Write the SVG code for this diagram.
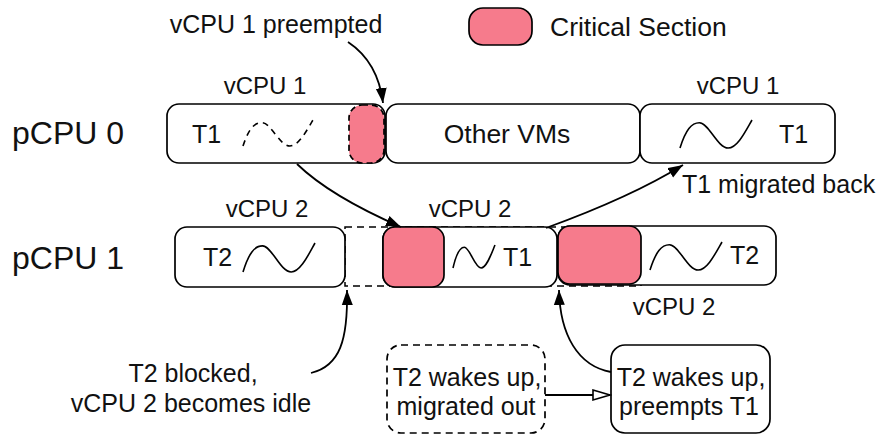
<svg xmlns="http://www.w3.org/2000/svg" width="881" height="436" viewBox="0 0 881 436">
  <defs>
    <style>
      text { font-family: "Liberation Sans", Arial, Helvetica, sans-serif; fill: #111; font-size: 25px; }
      .cpu { font-size: 32px; }
      .vlabel { font-size: 24px; text-anchor: middle; }
      .big { font-size: 26.5px; }
      .box { fill: #fff; stroke: #000; stroke-width: 1.7; }
      .dbox { fill: #fff; stroke: #000; stroke-width: 1.7; stroke-dasharray: 7 5; }
      .crit { fill: #f67b8c; stroke: #000; stroke-width: 1.7; }
      .crit-d { fill: #f67b8c; stroke: #000; stroke-width: 1.7; stroke-dasharray: 6 4; }
      .idle { fill: none; stroke: #000; stroke-width: 1.5; stroke-dasharray: 7 5; }
      .wave { fill: none; stroke: #000; stroke-width: 1.6; }
      .wave-d { fill: none; stroke: #000; stroke-width: 1.6; stroke-dasharray: 6 5; }
      .conn { fill: none; stroke: #000; stroke-width: 1.8; }
      .mid { text-anchor: middle; }
    </style>
    <marker id="arrow" markerUnits="userSpaceOnUse" markerWidth="16" markerHeight="12" refX="15" refY="6" orient="auto">
      <path d="M0,0.5 L15,6 L0,11.5 z" fill="#000"/>
    </marker>
    <marker id="hollow" markerUnits="userSpaceOnUse" markerWidth="20" markerHeight="14" refX="18" refY="7" orient="auto">
      <path d="M1,2 L18,7 L1,12 z" fill="#fff" stroke="#000" stroke-width="1.6"/>
    </marker>
  </defs>

  <!-- legend -->
  <g id="legend">
    <rect x="469" y="8" width="63" height="37" rx="14" class="crit" stroke-width="2"/>
    <text x="550" y="36" class="big">Critical Section</text>
  </g>

  <!-- row labels -->
  <g id="pcpu0-label"><text x="12" y="144" class="cpu">pCPU 0</text></g>
  <g id="pcpu1-label"><text x="12" y="269" class="cpu">pCPU 1</text></g>

  <!-- pCPU 0 timeline -->
  <g id="p0-vcpu1">
    <text x="265" y="94" class="vlabel">vCPU 1</text>
    <rect x="167" y="104" width="218" height="59" rx="12" class="box"/>
    <text x="192" y="143">T1</text>
    <path class="wave-d" d="M243,146 C248.6,129.1 254.2,122.6 261.9,122.6 C271,122.6 279.4,146 289.9,146 C299,146 307.4,129.1 313,120"/>
    <rect x="349" y="105" width="35" height="58" rx="13" class="crit-d"/>
  </g>
  <g id="p0-other">
    <rect x="386" y="104" width="254" height="59" rx="12" class="box"/>
    <text x="507" y="143" class="mid big">Other VMs</text>
  </g>
  <g id="p0-vcpu1-back">
    <text x="738" y="94" class="vlabel">vCPU 1</text>
    <rect x="640" y="104" width="195" height="59" rx="12" class="box"/>
    <path class="wave" d="M680,148 C685.8,129.8 691.5,122.8 699.4,122.8 C708.8,122.8 717.4,148 728.2,148 C737.6,148 746.2,129.8 752,120"/>
    <text x="779" y="143">T1</text>
  </g>

  <!-- pCPU 1 timeline: dashed outline is the span vCPU 2 spends idle/migrated -->
  <g id="p1-vcpu2-span">
    <rect x="345" y="227" width="296" height="59" class="idle"/>
  </g>
  <g id="p1-vcpu2-t2">
    <text x="267" y="217" class="vlabel">vCPU 2</text>
    <rect x="175" y="227" width="170" height="60" rx="12" class="box"/>
    <text x="203" y="266">T2</text>
    <path class="wave" d="M243,272 C248.8,253.2 254.5,245.9 262.4,245.9 C271.8,245.9 280.4,272 291.2,272 C300.6,272 309.2,253.2 315,243"/>
  </g>
  <g id="p1-vcpu2-t1">
    <text x="470" y="217" class="vlabel">vCPU 2</text>
    <rect x="383" y="227" width="174" height="60" rx="12" class="box"/>
    <rect x="383" y="227" width="61" height="60" rx="12" class="crit"/>
    <path class="wave" d="M453,268 C456.4,253.1 459.7,247.3 464.3,247.3 C469.8,247.3 474.8,268 481.1,268 C486.6,268 491.6,253.1 495,245"/>
    <text x="503" y="266">T1</text>
  </g>
  <g id="p1-vcpu2-back">
    <rect x="558" y="226" width="218" height="59" rx="12" class="box"/>
    <rect x="558" y="226" width="83" height="58" rx="12" class="crit"/>
    <path class="wave" d="M650,270 C655.8,251.8 661.5,244.8 669.4,244.8 C678.8,244.8 687.4,270 698.2,270 C707.6,270 716.2,251.8 722,242"/>
    <text x="730" y="264">T2</text>
    <text x="674" y="315" class="vlabel">vCPU 2</text>
  </g>

  <!-- annotations -->
  <g id="note-preempted"><text x="276" y="33" class="mid">vCPU 1 preempted</text></g>
  <g id="note-back"><text x="682" y="193">T1 migrated back</text></g>
  <g id="note-blocked">
    <text x="193" y="382" class="mid">T2 blocked,</text>
    <text x="191" y="412" class="mid">vCPU 2 becomes idle</text>
  </g>
  <g id="note-migrated-out">
    <rect x="387" y="345" width="158" height="88" rx="14" class="dbox"/>
    <text x="467" y="386" class="mid">T2 wakes up,</text>
    <text x="466" y="415" class="mid">migrated out</text>
  </g>
  <g id="note-preempts">
    <rect x="611" y="345" width="159" height="88" rx="14" class="box"/>
    <text x="691" y="386" class="mid">T2 wakes up,</text>
    <text x="689" y="415" class="mid">preempts T1</text>
  </g>

  <!-- connectors -->
  <g id="connectors">
    <path class="conn" d="M348,42 Q378,62 383,103" marker-end="url(#arrow)"/>
    <path class="conn" d="M297,164 Q330,196 401,227" marker-end="url(#arrow)"/>
    <path class="conn" d="M546,228 Q631.6,196.8 683,165" marker-end="url(#arrow)"/>
    <path class="conn" d="M311,373 C340,366 348,340 347,290" marker-end="url(#arrow)"/>
    <path class="conn" d="M611,372 C578,366 560,335 559,290" marker-end="url(#arrow)"/>
    <path class="conn" d="M545,395 L610,395" marker-end="url(#hollow)"/>
  </g>
</svg>
